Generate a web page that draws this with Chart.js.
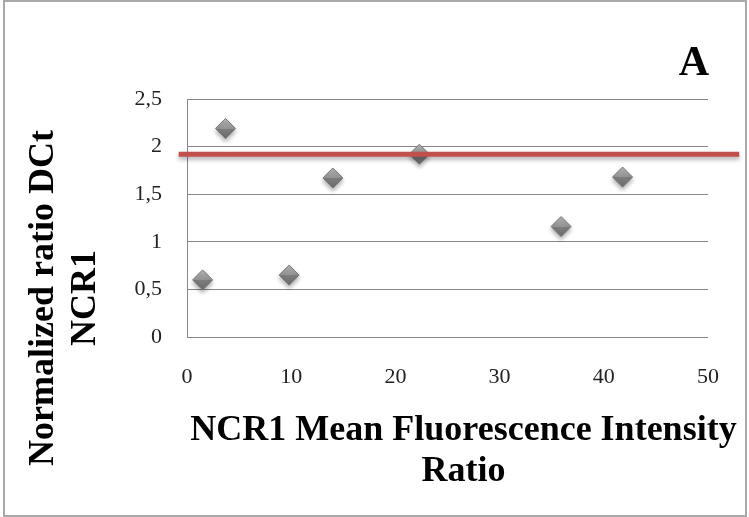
<!DOCTYPE html>
<html>
<head>
<meta charset="utf-8">
<title>NCR1 scatter</title>
<script src="https://cdn.jsdelivr.net/npm/chart.js@4/dist/chart.umd.min.js"></script>
<style>
	html,body{margin:0;padding:0;background:#ffffff;}
	#wrap{width:749px;height:517px;}
</style>
</head>
<body>
<div id="wrap"><canvas id="chart" width="749" height="517"></canvas></div>
<script>
// Values
var mfiRatio = [1.5, 3.7, 9.8, 14.0, 22.3, 35.9, 41.8];
var normalizedRatio = [0.60, 2.19, 0.65, 1.67, 1.92, 1.16, 1.68];
var thresholdLevel = 1.92;
var thresholdSpan = [-0.8, 53];
var xTicks = [0, 10, 20, 30, 40, 50];
var yTicks = [0, 0.5, 1, 1.5, 2, 2.5];
var panelLabel = 'A';
var xTitle = ['NCR1 Mean Fluorescence Intensity', 'Ratio'];
var yTitle = ['Normalized ratio DCt', 'NCR1'];

var serif = '"Liberation Serif", "DejaVu Serif", serif';
var gridColour = '#878787';

function comma(v){ return (''+v).replace('.', ','); }

var points = [];
for(var i = 0; i < mfiRatio.length; i++) points.push({'x':mfiRatio[i],'y':normalizedRatio[i]});

var threshold = [];
for(i = 0; i < thresholdSpan.length; i++) threshold.push({'x':thresholdSpan[i],'y':thresholdLevel});

// grey diamonds, lighter at the top like the Excel marker
function diamondFill(c){
	if(c.type !== 'data' || !c.parsed) return '#8c8c8c';
	var py = c.chart.scales.y.getPixelForValue(c.parsed.y);
	if(!isFinite(py)) return '#8c8c8c';
	var g = c.chart.ctx.createLinearGradient(0, py-10, 0, py+10);
	g.addColorStop(0, '#b8b8b8');
	g.addColorStop(0.5, '#959595');
	g.addColorStop(0.52, '#7e7e7e');
	g.addColorStop(1, '#6a6a6a');
	return g;
}

var decorations = {
	'id':'decorations',
	'beforeDraw': function(chart){
		var ctx = chart.ctx;
		ctx.save();
		ctx.strokeStyle = '#a9a9a9';
		ctx.lineWidth = 2;
		ctx.strokeRect(4, 1, chart.width-7, chart.height-2);
		ctx.restore();
	},
	'beforeDatasetDraw': function(chart, args){
		var ctx = chart.ctx;
		ctx.save();
		ctx.shadowColor = 'rgba(0,0,0,0.3)';
		ctx.shadowBlur = 4;
		ctx.shadowOffsetY = 3;
	},
	'afterDatasetDraw': function(chart){
		chart.ctx.restore();
	},
	'afterDraw': function(chart){
		var ctx = chart.ctx, a = chart.chartArea;
		var cx = (a.left+a.right)/2 + 16;
		var cy = (a.top+a.bottom)/2 + 80;
		ctx.save();
		ctx.fillStyle = '#000000';

		ctx.font = 'bold 42px '+serif;
		ctx.textAlign = 'right';
		ctx.textBaseline = 'alphabetic';
		ctx.fillText(panelLabel, a.right+1, 75);

		// x-axis title, two lines
		ctx.font = 'bold 36px '+serif;
		ctx.textAlign = 'center';
		ctx.fillText(xTitle[0], cx, a.bottom+103);
		ctx.fillText(xTitle[1], cx, a.bottom+144);

		// y-axis title, rotated
		ctx.translate(53, cy);
		ctx.rotate(-Math.PI/2);
		ctx.fillText(yTitle[0], 0, 0);
		ctx.fillText(yTitle[1], 0, 42);
		ctx.restore();
	}
};

new Chart(document.getElementById('chart'), {
	'type': 'scatter',
	'data': {
		'datasets': [{
			'type': 'line',
			'label': 'threshold',
			'data': threshold,
			'showLine': true,
			'borderColor': '#c0504d',
			'borderWidth': 5,
			'pointRadius': 0,
			'clip': false,
			'order': 0
		},{
			'label': 'NCR1',
			'data': points,
			'pointStyle': 'rectRot',
			'pointRadius': 10,
			'pointHoverRadius': 10,
			'backgroundColor': diamondFill,
			'borderColor': '#767676',
			'borderWidth': 1,
			'order': 1
		}]
	},
	'options': {
		'responsive': false,
		'animation': false,
		'devicePixelRatio': 1,
		'layout': {'padding': {'left': 127, 'top': 99, 'right': 41, 'bottom': 120}},
		'plugins': {'legend': {'display': false}, 'tooltip': {'enabled': false}},
		'scales': {
			'x': {
				'type': 'linear',
				'min': xTicks[0],
				'max': xTicks[xTicks.length-1],
				'afterFit': function(s){ s.height = 60; },
				'afterBuildTicks': function(s){ s.ticks = xTicks.map(function(v){ return {'value':v}; }); },
				'grid': {'display': false, 'drawTicks': false},
				'border': {'display': false},
				'ticks': {'padding': 27, 'color': '#222222', 'font': {'family': serif, 'size': 22}, 'maxRotation': 0, 'callback': comma}
			},
			'y': {
				'min': yTicks[0],
				'max': yTicks[yTicks.length-1],
				'afterFit': function(s){ s.width = 60; },
				'afterBuildTicks': function(s){ s.ticks = yTicks.map(function(v){ return {'value':v}; }); },
				'grid': {'color': gridColour, 'lineWidth': 1, 'drawTicks': false},
				'border': {'display': true, 'color': gridColour, 'width': 1},
				'ticks': {'padding': 25, 'color': '#222222', 'font': {'family': serif, 'size': 22}, 'callback': comma}
			}
		}
	},
	'plugins': [decorations]
});
</script>
</body>
</html>
